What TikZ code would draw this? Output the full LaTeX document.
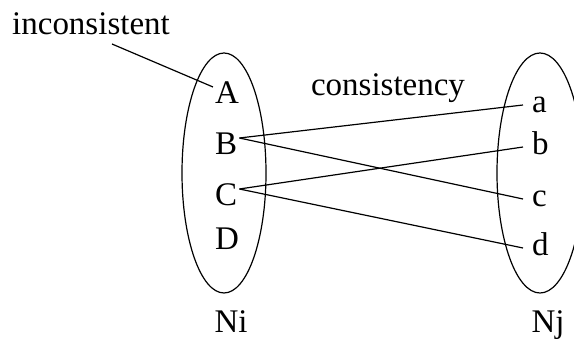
\documentclass[tikz,border=0pt]{standalone}
\usepackage{fontspec}
\setmainfont{Liberation Serif}
\begin{document}
\begin{tikzpicture}[x=1pt,y=-1pt,
  every node/.style={font=\fontsize{33pt}{40pt}\selectfont},
  lbl/.style={inner sep=0pt, anchor=base},
  lft/.style={inner xsep=2pt, inner ysep=0pt, text height=34pt, text depth=0pt, anchor=base west},
  rgt/.style={inner xsep=9pt, inner ysep=0pt, text height=16pt, text depth=0pt, anchor=base west},
  conn/.style={line width=1.2pt},
  set/.style={line width=1.2pt}]
\useasboundingbox (0,0) rectangle (574,339);
\clip (0,0) rectangle (574,339);
% sets
\draw[set] (224,173) ellipse [x radius=42pt, y radius=120pt];
\draw[set] (540,173) ellipse [x radius=43pt, y radius=120pt];
% labels
\node[lbl] (inc) at (91,35) {inconsistent};
\node[lbl] (cons) at (388,96) {consistency};
\node[lbl] (Ni) at (231,333) {Ni};
\node[lbl] (Nj) at (548,333) {Nj};
% left elements
\node[lft] (A) at (213,104) {A};
\node[lft] (B) at (213,155) {B};
\node[lft] (C) at (213,206) {C};
\node[lft] (D) at (213,250) {D};
% right elements
\node[rgt] (a) at (523,113) {a};
\node[rgt] (b) at (523,155) {b};
\node[rgt] (c) at (523,207) {c};
\node[rgt] (d) at (523,256) {d};
% connectors
\draw[conn] ([xshift=21pt,yshift=-9pt]inc.base) -- (A.west);
\draw[conn] (B.east) -- (a.west);
\draw[conn] (B.east) -- (c.west);
\draw[conn] (C.east) -- (b.west);
\draw[conn] (C.east) -- (d.west);
\end{tikzpicture}
\end{document}
